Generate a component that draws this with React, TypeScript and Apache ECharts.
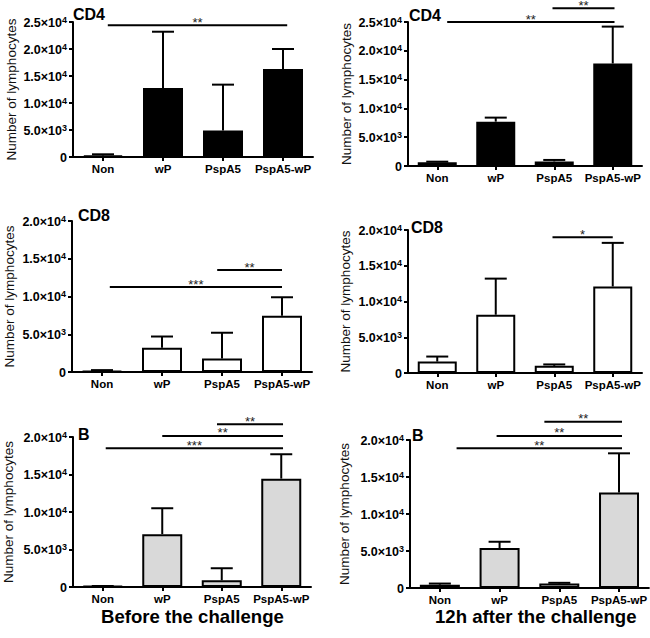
import React, { useEffect, useRef } from "react";
import * as echarts from "echarts";

const categories = ["Non", "wP", "PspA5", "PspA5-wP"];

// y tick labels: [mantissa part, exponent]
const yLabels25: [string, string][] = [["0", ""], ["5.0×10", "3"], ["1.0×10", "4"], ["1.5×10", "4"], ["2.0×10", "4"], ["2.5×10", "4"]];
const yLabels20: [string, string][] = [["0", ""], ["5.0×10", "3"], ["1.0×10", "4"], ["1.5×10", "4"], ["2.0×10", "4"]];

// means and upper error-bar ends
const cd4BeforeMean = [300, 12800, 4900, 16300];
const cd4BeforeTop = [500, 23200, 13400, 20000];
const cd4AfterMean = [650, 7700, 800, 17800];
const cd4AfterTop = [750, 8400, 1050, 24200];
const cd8BeforeMean = [150, 3200, 1800, 7450];
const cd8BeforeTop = [250, 4700, 5200, 9900];
const cd8AfterMean = [1600, 8150, 1000, 12100];
const cd8AfterTop = [2300, 13200, 1200, 18200];
const bBeforeMean = [130, 7050, 900, 14450];
const bBeforeTop = [130, 10500, 2500, 17700];
const bAfterMean = [450, 5400, 600, 12900];
const bAfterTop = [600, 6250, 700, 18200];

// significance brackets: [from category, to category, y value, label]
const cd4BeforeSig: [number, number, number, string][] = [[0.08, 3.07, 24400, "**"]];
const cd4AfterSig: [number, number, number, string][] = [
  [0.17, 3.03, 25000, "**"],
  [1.97, 3.03, 27400, "**"],
];
const cd8BeforeSig: [number, number, number, string][] = [
  [0.13, 3.0, 11250, "***"],
  [1.92, 3.0, 13500, "**"],
];
const cd8AfterSig: [number, number, number, string][] = [[1.97, 3.0, 19000, "*"]];
const bBeforeSig: [number, number, number, string][] = [
  [0.05, 3.03, 18500, "***"],
  [1.0, 3.03, 20150, "**"],
  [1.92, 3.03, 21700, "**"],
];
const bAfterSig: [number, number, number, string][] = [
  [0.28, 3.05, 18900, "**"],
  [0.95, 3.05, 20550, "**"],
  [1.75, 3.05, 22450, "**"],
];

const FONT = "'Liberation Sans', Arial, Helvetica, sans-serif";

const panels = [
  { title: "CD4", mean: cd4BeforeMean, top: cd4BeforeTop, sig: cd4BeforeSig, labels: yLabels25, max: 25000, fill: "#000000",
    grid: { left: 73, top: 22, width: 240, height: 135 }, titlePos: { left: 73, top: 6 }, nameGap: 55, barWidth: 40 },
  { title: "CD4", mean: cd4AfterMean, top: cd4AfterTop, sig: cd4AfterSig, labels: yLabels25, max: 25000, fill: "#000000",
    grid: { left: 408, top: 22, width: 234, height: 144 }, titlePos: { left: 409, top: 7 }, nameGap: 55, barWidth: 39 },
  { title: "CD8", mean: cd8BeforeMean, top: cd8BeforeTop, sig: cd8BeforeSig, labels: yLabels20, max: 20000, fill: "#ffffff",
    grid: { left: 72, top: 221, width: 240, height: 151 }, titlePos: { left: 78, top: 207 }, nameGap: 56, barWidth: 40 },
  { title: "CD8", mean: cd8AfterMean, top: cd8AfterTop, sig: cd8AfterSig, labels: yLabels20, max: 20000, fill: "#ffffff",
    grid: { left: 408, top: 230, width: 234, height: 143 }, titlePos: { left: 411, top: 219 }, nameGap: 56, barWidth: 39 },
  { title: "B", mean: bBeforeMean, top: bBeforeTop, sig: bBeforeSig, labels: yLabels20, max: 20000, fill: "#d9d9d9",
    grid: { left: 73, top: 437, width: 238, height: 150 }, titlePos: { left: 78, top: 426 }, nameGap: 58, barWidth: 40 },
  { title: "B", mean: bAfterMean, top: bAfterTop, sig: bAfterSig, labels: yLabels20, max: 20000, fill: "#d9d9d9",
    grid: { left: 410, top: 440, width: 240, height: 148 }, titlePos: { left: 412, top: 427 }, nameGap: 59, barWidth: 40 },
];

export default function App() {
  const ref = useRef<HTMLDivElement>(null);

  useEffect(() => {
    if (!ref.current) return;
    const chart = echarts.init(ref.current, undefined, { renderer: "svg" });

    const grids: any[] = [];
    const xAxes: any[] = [];
    const yAxes: any[] = [];
    const series: any[] = [];
    const titles: any[] = [];

    panels.forEach((p, i) => {
      grids.push({ ...p.grid, containLabel: false });
      titles.push({
        text: p.title,
        left: p.titlePos.left,
        top: p.titlePos.top,
        padding: 0,
        textStyle: { fontFamily: FONT, fontSize: 16, fontWeight: "bold", color: "#000" },
      });
      xAxes.push({
        type: "category",
        gridIndex: i,
        data: categories,
        axisLine: { show: true, lineStyle: { color: "#000", width: 2 } },
        axisTick: { show: true, alignWithLabel: true, length: 4, lineStyle: { color: "#000", width: 2 } },
        axisLabel: { fontFamily: FONT, fontSize: 11.5, fontWeight: "bold", color: "#000", margin: 6, interval: 0 },
        splitLine: { show: false },
      });
      const labels = p.labels;
      yAxes.push({
        type: "value",
        gridIndex: i,
        min: 0,
        max: p.max,
        interval: 5000,
        name: "Number of lymphocytes",
        nameLocation: "middle",
        nameGap: p.nameGap,
        nameTextStyle: { fontFamily: FONT, fontSize: 13.5, color: "#111" },
        axisLine: { show: true, lineStyle: { color: "#000", width: 2 } },
        axisTick: { show: true, length: 4, lineStyle: { color: "#000", width: 2 } },
        axisLabel: {
          fontFamily: FONT,
          color: "#000",
          margin: 6,
          formatter: (v: number) => {
            const l = labels[Math.round(v / 5000)];
            if (!l) return "";
            return l[1] ? `{m|${l[0]}}{e|${l[1]}}` : `{m|${l[0]}}`;
          },
          rich: {
            m: { fontFamily: FONT, fontSize: 12.5, fontWeight: "bold", color: "#000", lineHeight: 14, verticalAlign: "bottom" },
            e: { fontFamily: FONT, fontSize: 9, fontWeight: "bold", color: "#000", lineHeight: 14, verticalAlign: "top", padding: [0, 0, 6, 0] },
          },
        },
        splitLine: { show: false },
      });
      series.push({
        type: "bar",
        xAxisIndex: i,
        yAxisIndex: i,
        data: p.mean,
        barWidth: p.barWidth,
        itemStyle: { color: p.fill, borderColor: "#000", borderWidth: 2 },
        silent: true,
        z: 2,
      });
      series.push({
        type: "custom",
        xAxisIndex: i,
        yAxisIndex: i,
        data: p.mean.map((m, k) => [k, m, p.top[k]]),
        encode: { x: 0, y: [1, 2] },
        silent: true,
        z: 3,
        renderItem: (_params: any, api: any) => {
          const idx = api.value(0);
          const a = api.coord([idx, api.value(1)]);
          const b = api.coord([idx, api.value(2)]);
          const half = 11;
          return {
            type: "group",
            children: [
              { type: "line", shape: { x1: a[0], y1: a[1], x2: b[0], y2: b[1] }, style: { stroke: "#000", lineWidth: 2 } },
              { type: "line", shape: { x1: b[0] - half, y1: b[1], x2: b[0] + half, y2: b[1] }, style: { stroke: "#000", lineWidth: 2 } },
            ],
          };
        },
      });
      const sig = p.sig;
      series.push({
        type: "custom",
        xAxisIndex: i,
        yAxisIndex: i,
        data: sig.map((s) => [0, s[2]]),
        encode: { x: 0, y: 1 },
        clip: false,
        silent: true,
        z: 4,
        renderItem: (params: any, api: any) => {
          const s = sig[params.dataIndex];
          const band = api.size([1, 0])[0];
          const c0 = api.coord([0, s[2]]);
          const xa = c0[0] + s[0] * band;
          const xb = c0[0] + s[1] * band;
          const y = c0[1];
          return {
            type: "group",
            children: [
              { type: "line", shape: { x1: xa, y1: y, x2: xb, y2: y }, style: { stroke: "#000", lineWidth: 2 } },
              {
                type: "text",
                style: {
                  text: s[3],
                  x: (xa + xb) / 2,
                  y: y - 3,
                  textAlign: "center",
                  textVerticalAlign: "middle",
                  fontFamily: FONT,
                  fontSize: 13,
                  fill: "#222",
                },
              },
            ],
          };
        },
      });
    });

    chart.setOption({
      animation: false,
      backgroundColor: "#fff",
      title: titles,
      grid: grids,
      xAxis: xAxes,
      yAxis: yAxes,
      series,
      graphic: [
        {
          type: "text",
          left: 101,
          top: 607,
          style: { text: "Before the challenge", fontFamily: FONT, fontSize: 18.6, fontWeight: "bold", fill: "#000", lineHeight: 19 },
        },
        {
          type: "text",
          left: 435,
          top: 607,
          style: { text: "12h after the challenge", fontFamily: FONT, fontSize: 18.6, fontWeight: "bold", fill: "#000", lineHeight: 19 },
        },
      ],
    });

    return () => chart.dispose();
  }, []);

  return (
    <div
      ref={ref}
      style={{ position: "absolute", left: 0, top: 0, width: 650, height: 638, background: "#fff" }}
    />
  );
}
